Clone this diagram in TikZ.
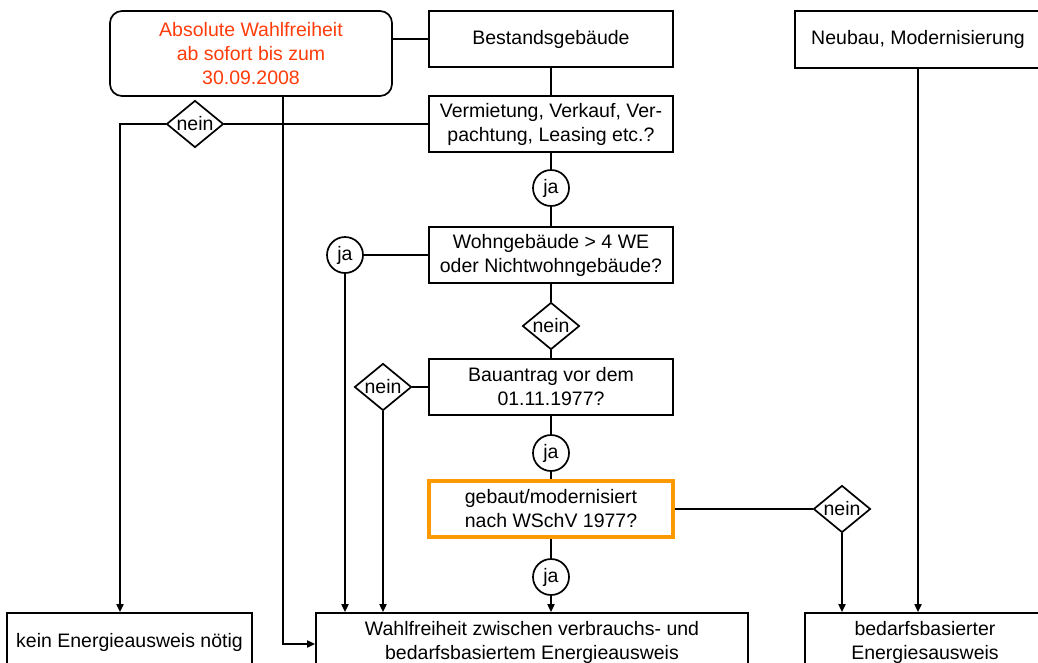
\documentclass[tikz,border=0pt]{standalone}
\usepackage{fontspec}
\setmainfont{Liberation Sans}
\usetikzlibrary{arrows.meta, positioning, shapes.geometric}
\definecolor{hinweis}{RGB}{255,60,10}
\definecolor{markiert}{RGB}{255,153,0}

\begin{document}
\begin{tikzpicture}[x=1pt,y=-1pt,on grid,line width=1.7pt,>={Triangle[length=8pt,width=7pt]},
      font=\fontsize{19.5}{24}\selectfont,
      box/.style={draw,minimum width=244pt,minimum height=56pt,inner sep=0pt,align=center},
      endbox/.style={draw,minimum height=58pt,inner sep=0pt,align=center},
      ja/.style={circle,draw,minimum size=36pt,inner sep=0pt},
      nein/.style={diamond,draw,minimum width=57pt,minimum height=47pt,inner sep=0pt,label=center:nein}]
      \clip (0,0) rectangle (1038,662);
      % Hauptstrang
      \node[box]  (best) at (551,39) {Bestandsgebäude};
      \node[box]  (verm) [below=85pt of best] {Vermietung, Verkauf, Ver-\\pachtung, Leasing etc.?};
      \node[ja]   (ja1)  [below=64pt of verm] {ja};
      \node[box]  (wohn) [below=67pt of ja1] {Wohngebäude > 4 WE\\oder Nichtwohngebäude?};
      \node[nein] (nein2) [below=71pt of wohn] {};
      \node[box]  (bau)  [below=61pt of nein2] {Bauantrag vor dem\\01.11.1977?};
      \node[ja]   (ja2)  [below=66pt of bau] {ja};
      \node[box,draw=markiert,line width=3.5pt] (geb) [below=56pt of ja2] {gebaut/modernisiert\\nach WSchV 1977?};
      \node[ja]   (ja3)  [below=68pt of geb] {ja};
      % Seitenzweige
      \node[box,minimum width=282pt,minimum height=85pt,rounded corners=12pt,text=hinweis] (abs) at (251,53.5)
        {Absolute Wahlfreiheit\\ab sofort bis zum\\30.09.2008};
      \node[box,minimum width=246pt,minimum height=57pt] (neu) at (918,39.5) {Neubau, Modernisierung};
      \node[nein] (nein1) at (195,124) {};
      \node[ja]   (ja4)   at (345,255) {ja};
      \node[nein] (nein3) at (383,387) {};
      \node[nein] (nein4) at (842,509) {};
      % Ergebnisse
      \node[endbox,minimum width=245pt] (kein) at (129.5,642) {kein Energieausweis nötig};
      \node[endbox,minimum width=432pt] (wahl) at (532,642) {Wahlfreiheit zwischen verbrauchs- und\\bedarfsbasiertem Energieausweis};
      \node[endbox,minimum width=240pt] (bed)  at (925,642) {bedarfsbasierter\\Energiesausweis};

      \draw (best.west) -- (best.west -| abs.east);
      \draw (best) -- (verm) -- (ja1) -- (wohn) -- (nein2) -- (bau) -- (ja2) -- (geb.north);
      \draw[->] (geb) -- (ja3) -- (ja3 |- wahl.north);
      \draw (verm.west) -- (nein1.east);
      \draw[->] (nein1.west) -| ([xshift=-9.5pt]kein.north);
      \draw[->] ([xshift=32pt]abs.south) |- ([yshift=-2pt]wahl.west);
      \draw (wohn.west) -- (ja4.east);
      \draw[->] (ja4.south) -- (ja4 |- wahl.north);
      \draw (bau.west) -- (nein3.east);
      \draw[->] (nein3.south) -- (nein3 |- wahl.north);
      \draw (geb.east) -- (nein4.west);
      \draw[->] (nein4.south) -- (nein4 |- bed.north);
      \draw[->] (neu.south) -- (neu |- bed.north);
    \end{tikzpicture}
\end{document}
